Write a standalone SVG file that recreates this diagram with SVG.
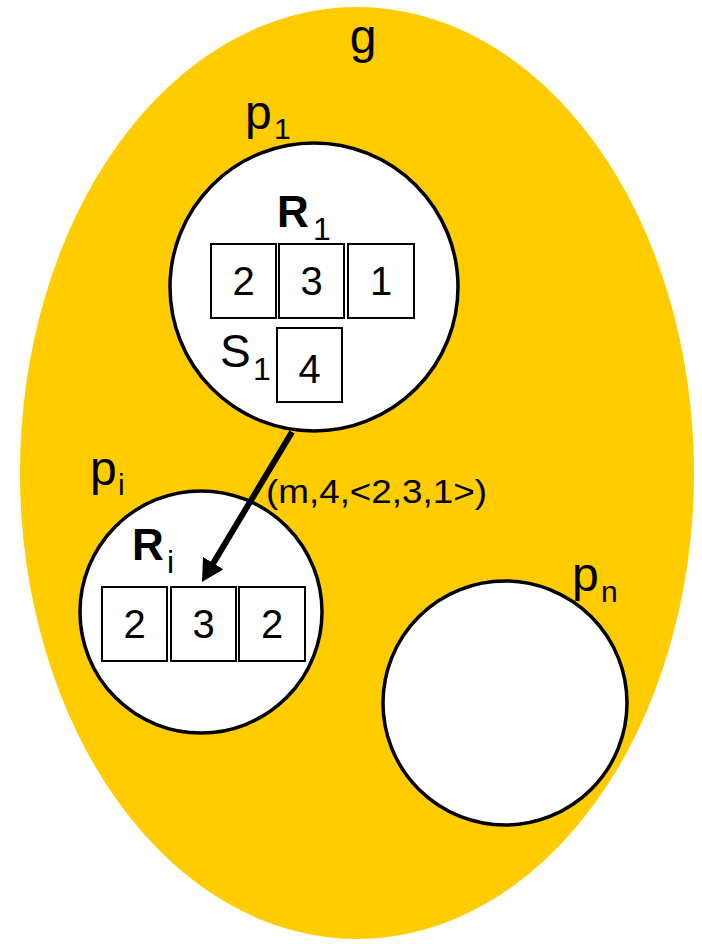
<svg xmlns="http://www.w3.org/2000/svg" width="702" height="944" viewBox="0 0 702 944">
  <style>
    text { font-family: "Liberation Sans", Arial, sans-serif; fill: #000; }
    .lbl { font-size: 48px; }
    .sub { font-size: 30px; }
    .big { font-size: 44px; font-weight: bold; }
    .bigsub { font-size: 32px; }
    .s { font-size: 46px; }
    .digit { font-size: 40px; text-anchor: middle; }
    .proc { fill: #fff; stroke: #000; stroke-width: 3.5; }
    .cell { fill: #fff; stroke: #000; stroke-width: 2; }
    .edge { stroke: #000; stroke-width: 6; fill: none; }
  </style>
  <defs>
    <marker id="arrow" markerUnits="userSpaceOnUse" markerWidth="22" markerHeight="24" viewBox="0 0 22 24" refX="7" refY="12" orient="auto">
      <path d="M0,0 L22,12 L0,24 z" fill="#000"/>
    </marker>
  </defs>

  <g id="group-g">
    <ellipse cx="357" cy="473" rx="337" ry="466" fill="#FFCC00"/>
    <text class="lbl" x="363" y="53" text-anchor="middle">g</text>
  </g>

  <g id="p1">
    <circle class="proc" cx="314" cy="287" r="144"/>
    <text class="lbl" x="245" y="129">p</text>
    <text class="sub" x="274" y="139">1</text>
    <text class="big" x="277" y="227">R</text>
    <text class="bigsub" x="313" y="240">1</text>
    <rect class="cell" x="211" y="244" width="65" height="74"/>
    <rect class="cell" x="279" y="244" width="65" height="74"/>
    <rect class="cell" x="348" y="244" width="66" height="74"/>
    <text class="digit" x="243.5" y="295">2</text>
    <text class="digit" x="311.5" y="295">3</text>
    <text class="digit" x="381" y="295">1</text>
    <text class="s" x="220" y="367">S</text>
    <text class="bigsub" x="253" y="380">1</text>
    <rect class="cell" x="277" y="328" width="65" height="74"/>
    <text class="digit" x="309.5" y="383">4</text>
  </g>

  <g id="pi">
    <circle class="proc" cx="201" cy="612" r="121"/>
    <text class="lbl" x="90" y="485">p</text>
    <text class="sub" x="118" y="495">i</text>
    <text class="big" x="132" y="560">R</text>
    <text class="bigsub" x="167" y="573">i</text>
    <rect class="cell" x="102" y="587" width="65" height="74"/>
    <rect class="cell" x="171" y="587" width="65" height="74"/>
    <rect class="cell" x="239" y="587" width="66" height="74"/>
    <text class="digit" x="134.5" y="638">2</text>
    <text class="digit" x="203.5" y="638">3</text>
    <text class="digit" x="272" y="638">2</text>
  </g>

  <g id="pn">
    <circle class="proc" cx="505" cy="703" r="122"/>
    <text class="lbl" x="572" y="591">p</text>
    <text class="sub" x="601" y="602">n</text>
  </g>

  <g id="connectors">
    <line class="edge" x1="292" y1="432" x2="209.7" y2="569.1" marker-end="url(#arrow)"/>
    <text x="266" y="503" font-size="34" textLength="221" lengthAdjust="spacingAndGlyphs">(m,4,&lt;2,3,1&gt;)</text>
  </g>
</svg>
